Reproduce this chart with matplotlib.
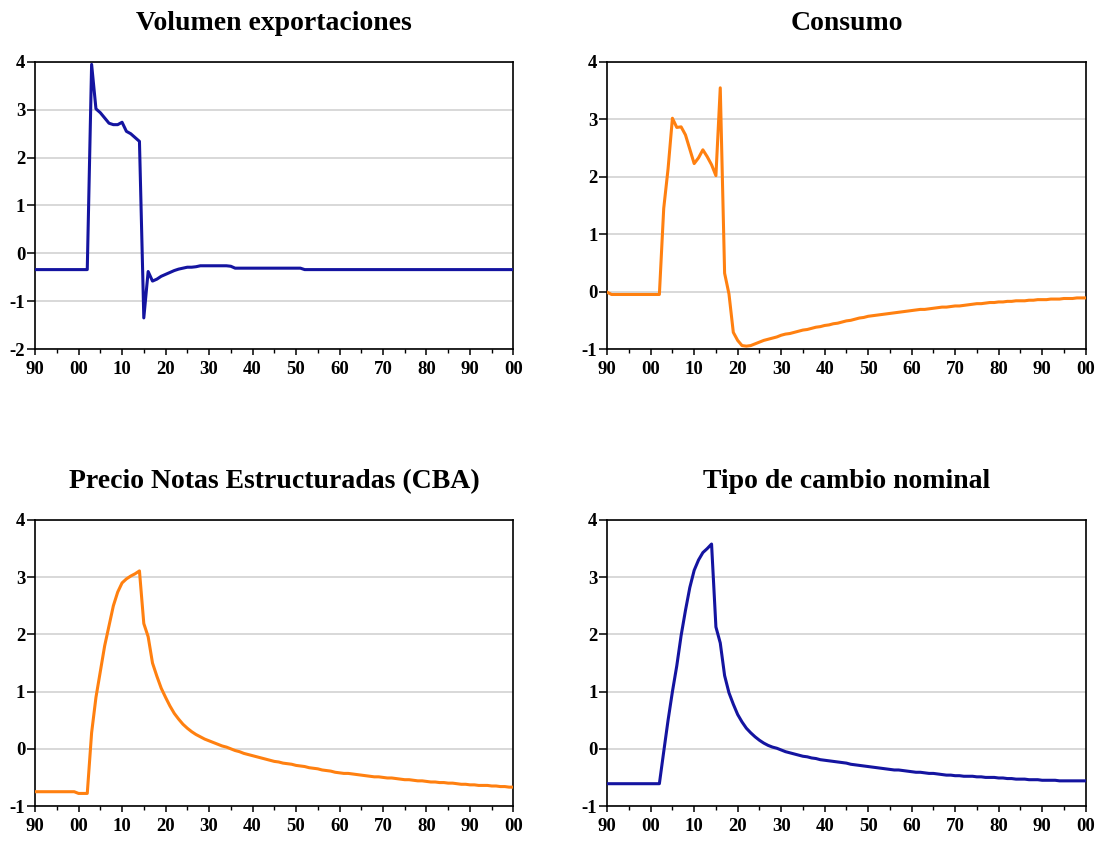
import numpy as np
import matplotlib.pyplot as plt
from matplotlib.ticker import MultipleLocator, FixedLocator

plt.rcParams['font.family'] = 'Liberation Serif'
plt.rcParams['font.weight'] = 'bold'
plt.rcParams['axes.unicode_minus'] = False

# annual data 1990-2100
years = np.arange(1990, 2101)

titles = ['Volumen exportaciones', 'Consumo',
          'Precio Notas Estructuradas (CBA)', 'Tipo de cambio nominal']

exportaciones = [
    -0.34, -0.34, -0.34, -0.34, -0.34, -0.34, -0.34, -0.34, -0.34, -0.34,
    -0.34, -0.34, -0.34, 3.95, 3.02, 2.94, 2.83, 2.72, 2.69, 2.69,
    2.74, 2.55, 2.50, 2.42, 2.34, -1.35, -0.38, -0.58, -0.54, -0.48,
    -0.44, -0.40, -0.36, -0.33, -0.31, -0.29, -0.29, -0.28, -0.26, -0.26,
    -0.26, -0.26, -0.26, -0.26, -0.26, -0.27, -0.31, -0.31, -0.31, -0.31,
    -0.31, -0.31, -0.31, -0.31, -0.31, -0.31, -0.31, -0.31, -0.31, -0.31,
    -0.31, -0.31, -0.34, -0.34, -0.34, -0.34, -0.34, -0.34, -0.34, -0.34,
    -0.34, -0.34, -0.34, -0.34, -0.34, -0.34, -0.34, -0.34, -0.34, -0.34,
    -0.34, -0.34, -0.34, -0.34, -0.34, -0.34, -0.34, -0.34, -0.34, -0.34,
    -0.34, -0.34, -0.34, -0.34, -0.34, -0.34, -0.34, -0.34, -0.34, -0.34,
    -0.34, -0.34, -0.34, -0.34, -0.34, -0.34, -0.34, -0.34, -0.34, -0.34,
    -0.34,
]

consumo = [
    -0.01, -0.05, -0.05, -0.05, -0.05, -0.05, -0.05, -0.05, -0.05, -0.05,
    -0.05, -0.05, -0.05, 1.45, 2.14, 3.02, 2.86, 2.87, 2.73, 2.48,
    2.23, 2.33, 2.47, 2.35, 2.21, 2.02, 3.55, 0.32, -0.04, -0.71,
    -0.85, -0.94, -0.95, -0.94, -0.91, -0.88, -0.85, -0.83, -0.81, -0.79,
    -0.76, -0.74, -0.73, -0.71, -0.69, -0.67, -0.66, -0.64, -0.62, -0.61,
    -0.59, -0.58, -0.56, -0.55, -0.53, -0.51, -0.50, -0.48, -0.46, -0.45,
    -0.43, -0.42, -0.41, -0.40, -0.39, -0.38, -0.37, -0.36, -0.35, -0.34,
    -0.33, -0.32, -0.31, -0.31, -0.30, -0.29, -0.28, -0.27, -0.27, -0.26,
    -0.25, -0.25, -0.24, -0.23, -0.22, -0.21, -0.21, -0.20, -0.19, -0.19,
    -0.18, -0.18, -0.17, -0.17, -0.16, -0.16, -0.16, -0.15, -0.15, -0.14,
    -0.14, -0.14, -0.13, -0.13, -0.13, -0.12, -0.12, -0.12, -0.11, -0.11,
    -0.11,
]

precio_notas = [
    -0.75, -0.75, -0.75, -0.75, -0.75, -0.75, -0.75, -0.75, -0.75, -0.75,
    -0.78, -0.78, -0.78, 0.28, 0.90, 1.35, 1.80, 2.15, 2.50, 2.74,
    2.90, 2.97, 3.02, 3.06, 3.11, 2.19, 1.96, 1.50, 1.27, 1.06,
    0.90, 0.75, 0.62, 0.52, 0.43, 0.36, 0.30, 0.25, 0.21, 0.17,
    0.14, 0.11, 0.08, 0.05, 0.03, 0.00, -0.03, -0.05, -0.08, -0.10,
    -0.12, -0.14, -0.16, -0.18, -0.20, -0.22, -0.23, -0.25, -0.26, -0.27,
    -0.29, -0.30, -0.31, -0.33, -0.34, -0.35, -0.37, -0.38, -0.39, -0.41,
    -0.42, -0.43, -0.43, -0.44, -0.45, -0.46, -0.47, -0.48, -0.49, -0.49,
    -0.50, -0.51, -0.51, -0.52, -0.53, -0.54, -0.54, -0.55, -0.56, -0.56,
    -0.57, -0.58, -0.58, -0.59, -0.59, -0.60, -0.60, -0.61, -0.62, -0.62,
    -0.63, -0.63, -0.64, -0.64, -0.64, -0.65, -0.65, -0.66, -0.66, -0.67,
    -0.67,
]

tipo_cambio = [
    -0.61, -0.61, -0.61, -0.61, -0.61, -0.61, -0.61, -0.61, -0.61, -0.61,
    -0.61, -0.61, -0.61, -0.05, 0.50, 1.00, 1.45, 1.98, 2.42, 2.82,
    3.12, 3.30, 3.43, 3.50, 3.58, 2.13, 1.85, 1.28, 0.98, 0.78,
    0.60, 0.47, 0.36, 0.28, 0.21, 0.15, 0.10, 0.06, 0.03, 0.01,
    -0.02, -0.05, -0.07, -0.09, -0.11, -0.13, -0.14, -0.16, -0.17, -0.19,
    -0.20, -0.21, -0.22, -0.23, -0.24, -0.25, -0.27, -0.28, -0.29, -0.30,
    -0.31, -0.32, -0.33, -0.34, -0.35, -0.36, -0.37, -0.37, -0.38, -0.39,
    -0.40, -0.41, -0.41, -0.42, -0.43, -0.43, -0.44, -0.45, -0.46, -0.46,
    -0.47, -0.47, -0.48, -0.48, -0.48, -0.49, -0.49, -0.50, -0.50, -0.50,
    -0.51, -0.51, -0.52, -0.52, -0.53, -0.53, -0.53, -0.54, -0.54, -0.54,
    -0.55, -0.55, -0.55, -0.55, -0.56, -0.56, -0.56, -0.56, -0.56, -0.56,
    -0.56,
]

series = [exportaciones, consumo, precio_notas, tipo_cambio]
colors = ['#1414a0', '#ff8010', '#ff8010', '#1414a0']
ylims = [(-2, 4), (-1, 4), (-1, 4), (-1, 4)]

xticks = list(range(1990, 2101, 10))
xticklabels = ['90', '00', '10', '20', '30', '40', '50', '60', '70', '80', '90', '00']

# axes boxes in figure fractions
positions = [
    [0.032, 0.585, 0.4365, 0.3413],
    [0.554, 0.585, 0.4365, 0.3413],
    [0.032, 0.0416, 0.4365, 0.3401],
    [0.554, 0.0416, 0.4365, 0.3401],
]

fig = plt.figure(figsize=(10.96, 8.41), dpi=100)

for pos, title, data, col, yl in zip(positions, titles, series, colors, ylims):
    ax = fig.add_axes(pos)
    ax.plot(years, data, color=col, linewidth=2.2, zorder=3)
    ax.set_xlim(1990, 2100)
    ax.set_ylim(*yl)
    ax.xaxis.set_major_locator(FixedLocator(xticks))
    ax.set_xticklabels(xticklabels)
    ax.xaxis.set_minor_locator(MultipleLocator(5))
    ax.yaxis.set_major_locator(MultipleLocator(1))
    ax.grid(axis='y', color='#d2d2d2', linewidth=1.2, zorder=0)
    ax.tick_params(axis='x', which='major', direction='out', length=4.5,
                   width=1.1, labelsize=13.5, pad=4)
    ax.tick_params(axis='y', which='major', direction='out', length=5.5,
                   width=1.1, labelsize=13.5, pad=1.5)
    ax.tick_params(axis='x', which='minor', direction='out', length=3, width=1.0)
    for s in ax.spines.values():
        s.set_linewidth(1.2)
        s.set_color('black')
    ax.set_title(title, fontsize=20, fontweight='bold', pad=23)

plt.savefig('out.png', dpi=100)
